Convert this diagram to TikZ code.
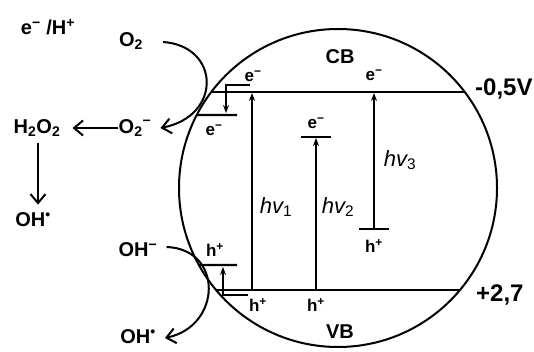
\documentclass[tikz,border=0pt]{standalone}
\usepackage{fontspec}
\setmainfont{Liberation Sans}
\usetikzlibrary{arrows.meta,calc,positioning}
\newcommand{\eminus}{e\textsuperscript{−}}
\newcommand{\hplus}{h\textsuperscript{+}}
\tikzset{chem/.style={font=\bfseries\fontsize{20}{22}\selectfont, inner sep=1pt},
  carrier/.style={font=\bfseries\fontsize{17}{19}\selectfont, inner sep=0pt},
  potential/.style={font=\bfseries\fontsize{24}{26}\selectfont, inner sep=0pt, anchor=base west},
  photon/.style={font=\itshape\fontsize{22}{24}\selectfont, inner sep=0pt},
  band/.style={line width=2.8pt},
  level/.style={line width=2.4pt},
  excite/.style={line width=1.9pt, -{Stealth[length=8pt,width=6pt]}},
  hop/.style={line width=2.6pt, -{Stealth[length=8pt,width=6pt]}},
  react/.style={line width=2pt, -{Straight Barb[length=9pt,width=15pt,line width=2pt]}}}

\begin{document}
\begin{tikzpicture}[x=1pt, y=1pt]
\useasboundingbox (0,0) rectangle (534,351);
% particle
\coordinate (C) at (338,163);
\draw[line width=2pt] (C) circle [radius=159pt];
% bands
\coordinate (CBl) at ($(C)+(142.87:159pt)$);
\coordinate (CBr) at ($(C)+(37.13:159pt)$);
\coordinate (VBl) at ($(C)+(219.9:159pt)$);
\coordinate (VBr) at ($(C)+(-39.9:159pt)$);
\draw[band] (CBl) -- (CBr);
\draw[band] (VBl) -- (VBr);
\node[chem] (CB) at (340,294) {CB};
\node[chem] (VB) at (340,19) {VB};
\node[potential] (Ecb) at (475,255) {-0,5V};
\node[potential] (Evb) at (476,50) {+2,7};
% surface states
\coordinate (S1l) at ($(C)+(152.67:159pt)$);
\coordinate (S1r) at (237,236);
\coordinate (S2l) at ($(C)+(208.97:159pt)$);
\coordinate (S2r) at (237,86);
\draw[level] (S1l) -- (S1r);
\draw[level] (S2l) -- (S2r);
\node[carrier] (e1) at (253,275) {\eminus};
\node[carrier] (e2) at (214,221) {\eminus};
\node[carrier] (h1) at (215,101) {\hplus};
\node[carrier] (h2) at (258,46) {\hplus};
\coordinate (B1a) at (250,266);
\coordinate (B1b) at (226,238);
\coordinate (B2a) at (248,56);
\coordinate (B2b) at (223,84);
\draw[hop] (B1a) -| (B1b);
\draw[hop] (B2a) -| (B2b);
% excitations
\coordinate (P1a) at (252,61);
\coordinate (P1b) at (252,258);
\draw[excite] (P1a) -- (P1b);
\node[photon] (hv1) at (276,144) {hv\textsubscript{\upshape 1}};
\coordinate (L2l) at (301,214);
\coordinate (L2r) at (331,214);
\coordinate (P2a) at (316,61);
\coordinate (P2b) at (316,213);
\draw[level] (L2l) -- (L2r);
\draw[excite] (P2a) -- (P2b);
\node[carrier] (e3) at (316,228) {\eminus};
\node[carrier] (h3) at (316,46) {\hplus};
\node[photon] (hv2) at (338,144) {hv\textsubscript{\upshape 2}};
\coordinate (L3l) at (359,122);
\coordinate (L3r) at (389,122);
\coordinate (P3a) at (374,122);
\coordinate (P3b) at (374,258);
\draw[level] (L3l) -- (L3r);
\draw[excite] (P3a) -- (P3b);
\node[carrier] (h4) at (374,105) {\hplus};
\node[carrier] (e4) at (374,276) {\eminus};
\node[photon] (hv3) at (400,191) {hv\textsubscript{\upshape 3}};
% solution side
\node[chem] (eH) at (48,324) {\eminus\ /H\textsuperscript{+}};
\node[chem] (O2) at (131,310) {O\textsubscript{2}};
\node[chem] (O2m) at (135,223) {O\textsubscript{2}\textsuperscript{−}};
\node[chem] (H2O2) at (37,223) {H\textsubscript{2}O\textsubscript{2}};
\node[chem] (OHa) at (33,131) {OH\textsuperscript{•}};
\node[chem] (OHm) at (138,101) {OH\textsuperscript{−}};
\node[chem] (OHb) at (138,14) {OH\textsuperscript{•}};
\draw[react] ([xshift=19pt,yshift=-1pt]O2.east) .. controls +(57,-4) and +(62,12) .. ([xshift=8pt]O2m.east);
\draw[react] ([xshift=8pt,yshift=3pt]OHm.east) .. controls +(57,-2) and +(57,12) .. ([xshift=8pt,yshift=-1pt]OHb.east);
\draw[react] (O2m.west) -- ([xshift=11pt]H2O2.east);
\draw[react] ([xshift=1pt,yshift=-5pt]H2O2.south) -- ([xshift=5pt,yshift=7pt]OHa.north);
\end{tikzpicture}
\end{document}
